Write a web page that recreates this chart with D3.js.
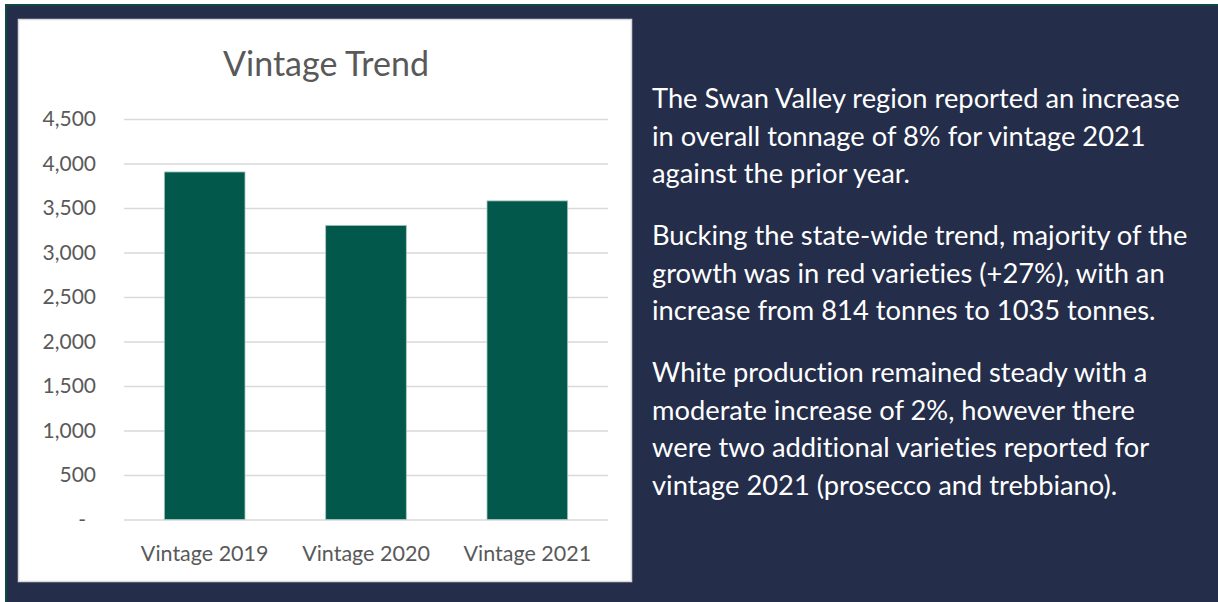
<!DOCTYPE html>
<html>
<head>
<meta charset="utf-8">
<script src="https://cdn.jsdelivr.net/npm/d3@7"></script>
<style>
  body { margin: 0; background: #ffffff; }
  svg { display: block; }
  text { font-variant-ligatures: none; }
  .axis text { font-family: Lato, "Noto Sans", sans-serif; fill: #595959; }
  .note { font-family: Lato, "Noto Sans", sans-serif; fill: #ffffff; }
</style>
</head>
<body>
<div id="chart"></div>
<script>
(function () {

  // data
  var categories = ["Vintage 2019", "Vintage 2020", "Vintage 2021"]
  var tonnes = [3905, 3305, 3580]
  var yTicks = [0, 500, 1000, 1500, 2000, 2500, 3000, 3500, 4000, 4500]
  var title = "Vintage Trend"

  var paragraphs = [
    ["The Swan Valley region reported an increase",
     "in overall tonnage of 8% for vintage 2021",
     "against the prior year."],
    ["Bucking the state-wide trend, majority of the",
     "growth was in red varieties (+27%), with an",
     "increase from 814 tonnes to 1035 tonnes."],
    ["White production remained steady with a",
     "moderate increase of 2%, however there",
     "were two additional varieties reported for",
     "vintage 2021 (prosecco and trebbiano)."]
  ]

  var W = 1218, H = 602

  var svg = d3.select("#chart").append("svg")
    .attr("width", W)
    .attr("height", H)

  // dark slide background with the thin teal edge
  svg.append("rect")
    .attr("x", 5).attr("y", 4)
    .attr("width", W - 5).attr("height", H - 4)
    .attr("fill", "#242d49")
  svg.append("line")
    .attr("x1", 5).attr("x2", W).attr("y1", 5).attr("y2", 5)
    .attr("stroke", "#0c4a3d").attr("stroke-width", 2)
  svg.append("line")
    .attr("x1", 6).attr("x2", 6).attr("y1", 4).attr("y2", H)
    .attr("stroke", "#0c4a3d").attr("stroke-width", 2)

  // white chart card
  svg.append("rect")
    .attr("x", 18.5).attr("y", 19.5)
    .attr("width", 613).attr("height", 562)
    .attr("fill", "#ffffff")
    .attr("stroke", "#d9d9d9")
    .attr("stroke-width", 1.5)

  var margin = { top: 119, left: 124 }
  var width = 484, height = 400.5

  var g = svg.append("g")
    .attr("transform", "translate(" + margin.left + "," + margin.top + ")")

  var xPositionScale = d3.scaleBand()
    .domain(categories)
    .range([0, width])
    .paddingInner(0.5)
    .paddingOuter(0.25)

  var yPositionScale = d3.scaleLinear()
    .domain([0, 4500])
    .range([height, 0])

  // gridlines + labels
  var yAxis = d3.axisLeft(yPositionScale)
    .tickValues(yTicks)
    .tickSize(-width)
    .tickPadding(28)
    .tickFormat(function (d) { return d === 0 ? "-" : d3.format(",")(d) })

  var yg = g.append("g")
    .attr("class", "axis y-axis")
    .call(yAxis)
  yg.select(".domain").remove()
  yg.selectAll(".tick line")
    .attr("stroke", "#d9d9d9")
    .attr("stroke-width", 1.5)
  yg.selectAll(".tick text")
    .attr("font-size", 21)
  // excel puts the zero dash a bit further in
  yg.selectAll(".tick text")
    .filter(function (d) { return d === 0 })
    .attr("dx", -10)

  var bars = g.selectAll(".bar")
    .data(tonnes)
    .enter()
    .append("rect")
    .attr("class", "bar")
    .attr("x", function (d, i) { return xPositionScale(categories[i]) })
    .attr("y", function (d) { return yPositionScale(d) })
    .attr("width", xPositionScale.bandwidth())
    .attr("height", function (d) { return height - yPositionScale(d) })
    .attr("fill", "#02594b")
    .attr("stroke", "#a8c8c0")
    .attr("stroke-width", 0.8)

  var xAxis = d3.axisBottom(xPositionScale).tickSize(0).tickPadding(26)
  var xg = g.append("g")
    .attr("class", "axis x-axis")
    .attr("transform", "translate(0," + height + ")")
    .call(xAxis)
  xg.select(".domain").remove()
  xg.selectAll(".tick text")
    .attr("font-size", 21.5)

  svg.append("text")
    .attr("class", "axis")
    .attr("x", 326)
    .attr("y", 76)
    .attr("text-anchor", "middle")
    .attr("font-family", "Lato, 'Noto Sans', sans-serif")
    .attr("font-size", 34)
    .attr("fill", "#595959")
    .text(title)

  // commentary on the right
  var paraTop = [108, 245, 382]
  var lineGap = 37.7

  paragraphs.forEach(function (lines, p) {
    var t = svg.append("text")
      .attr("class", "note")
      .attr("font-size", 27.3)
    lines.forEach(function (line, i) {
      t.append("tspan")
        .attr("x", 652)
        .attr("y", paraTop[p] + i * lineGap)
        .text(line)
    })
  })

})()
</script>
</body>
</html>
